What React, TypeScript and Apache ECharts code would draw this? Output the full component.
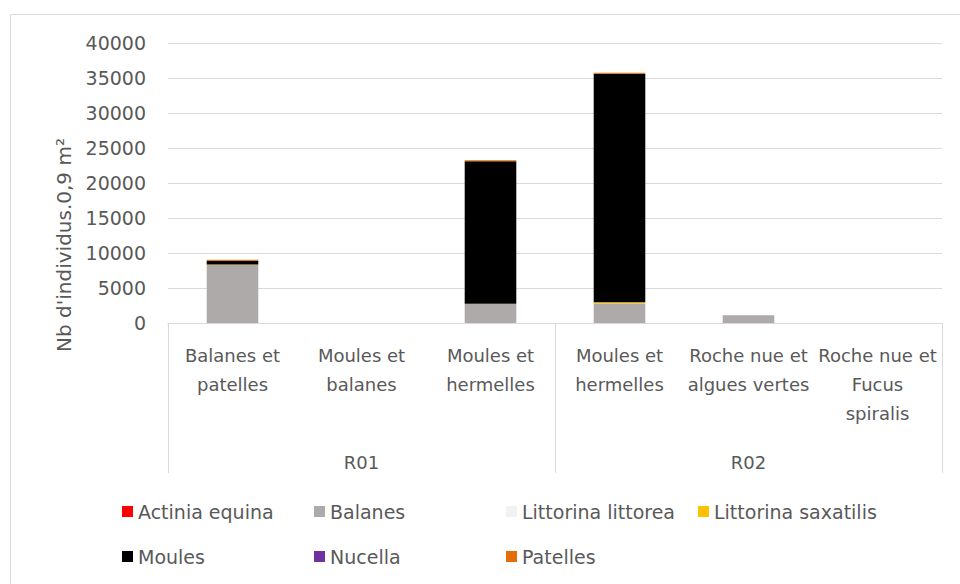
import React, { useEffect, useRef } from "react";
import * as echarts from "echarts";

const categories = [
  "Balanes et\npatelles",
  "Moules et\nbalanes",
  "Moules et\nhermelles",
  "Moules et\nhermelles",
  "Roche nue et\nalgues vertes",
  "Roche nue et\nFucus\nspiralis",
];
const groups = ["R01", "R02"];
const yTicks = { min: 0, max: 40000, interval: 5000 };

const actiniaEquina = [0, 0, 0, 0, 0, 0];
const balanes = [8300, 0, 2700, 2800, 1100, 0];
const littorinaLittorea = [0, 0, 0, 0, 0, 0];
const littorinaSaxatilis = [50, 0, 50, 150, 0, 0];
const moules = [550, 0, 20350, 32650, 0, 0];
const nucella = [0, 0, 0, 0, 0, 0];
const patelles = [150, 0, 150, 150, 0, 0];

const seriesDefs = [
  { name: "Actinia equina", data: actiniaEquina, color: "#ff0000" },
  { name: "Balanes", data: balanes, color: "#aeaaaa" },
  { name: "Littorina littorea", data: littorinaLittorea, color: "#f2f2f2" },
  { name: "Littorina saxatilis", data: littorinaSaxatilis, color: "#ffc000" },
  { name: "Moules", data: moules, color: "#000000" },
  { name: "Nucella", data: nucella, color: "#7030a0" },
  { name: "Patelles", data: patelles, color: "#e46c0a" },
];

const FONT = "DejaVu Sans";
const TXT = "#595959";
const LINE = "#d9d9d9";

export default function App() {
  const ref = useRef<HTMLDivElement>(null);
  useEffect(() => {
    if (!ref.current) return;
    const chart = echarts.init(ref.current, undefined, { renderer: "svg" });
    chart.setOption({
      animation: false,
      backgroundColor: "#ffffff",
      textStyle: { fontFamily: FONT },
      grid: { left: 168, right: 18, top: 43, bottom: 261, containLabel: false },
      xAxis: [
        {
          type: "category",
          data: categories,
          position: "bottom",
          axisLine: { show: true, lineStyle: { color: LINE, width: 1 } },
          axisTick: { show: false },
          axisLabel: {
            interval: 0,
            margin: 18,
            color: TXT,
            fontFamily: FONT,
            fontSize: 18,
            lineHeight: 29,
          },
        },
        {
          type: "category",
          data: groups,
          position: "bottom",
          axisLine: { show: true, lineStyle: { color: LINE, width: 1 } },
          axisTick: {
            show: true,
            interval: 0,
            length: 150,
            lineStyle: { color: LINE, width: 1 },
          },
          axisLabel: {
            interval: 0,
            margin: 128,
            color: TXT,
            fontFamily: FONT,
            fontSize: 18,
            lineHeight: 22,
          },
        },
      ],
      yAxis: {
        type: "value",
        min: yTicks.min,
        max: yTicks.max,
        interval: yTicks.interval,
        axisLine: { show: false },
        axisTick: { show: false },
        splitLine: { lineStyle: { color: LINE, width: 1 } },
        axisLabel: {
          color: TXT,
          fontFamily: FONT,
          fontSize: 19,
          margin: 22,
          formatter: (v: number) => String(v),
        },
      },
      legend: {
        left: 117,
        top: 487,
        width: 800,
        itemWidth: 11,
        itemHeight: 11,
        itemGap: 6,
        icon: "rect",
        textStyle: {
          color: TXT,
          fontFamily: FONT,
          fontSize: 19,
          width: 170,
          lineHeight: 39,
        },
        data: seriesDefs.map((s) => s.name),
      },
      graphic: [
        {
          type: "rect",
          shape: { x: 10.5, y: 14.5, width: 1000, height: 700 },
          style: { fill: "none", stroke: LINE, lineWidth: 1 },
          silent: true,
        },
        {
          type: "text",
          x: 64,
          y: 245,
          rotation: Math.PI / 2,
          style: {
            text: "Nb d'individus.0,9 m²",
            fill: TXT,
            font: `20px "${FONT}"`,
            align: "center",
            verticalAlign: "middle",
          },
        },
      ],
      series: seriesDefs.map((s) => ({
        name: s.name,
        type: "bar",
        stack: "total",
        xAxisIndex: 0,
        barWidth: "40%",
        data: s.data,
        itemStyle: { color: s.color },
        emphasis: { disabled: true },
      })),
    });
    return () => chart.dispose();
  }, []);
  return (
    <div
      ref={ref}
      style={{ position: "fixed", left: 0, top: 0, width: 960, height: 584 }}
    />
  );
}
